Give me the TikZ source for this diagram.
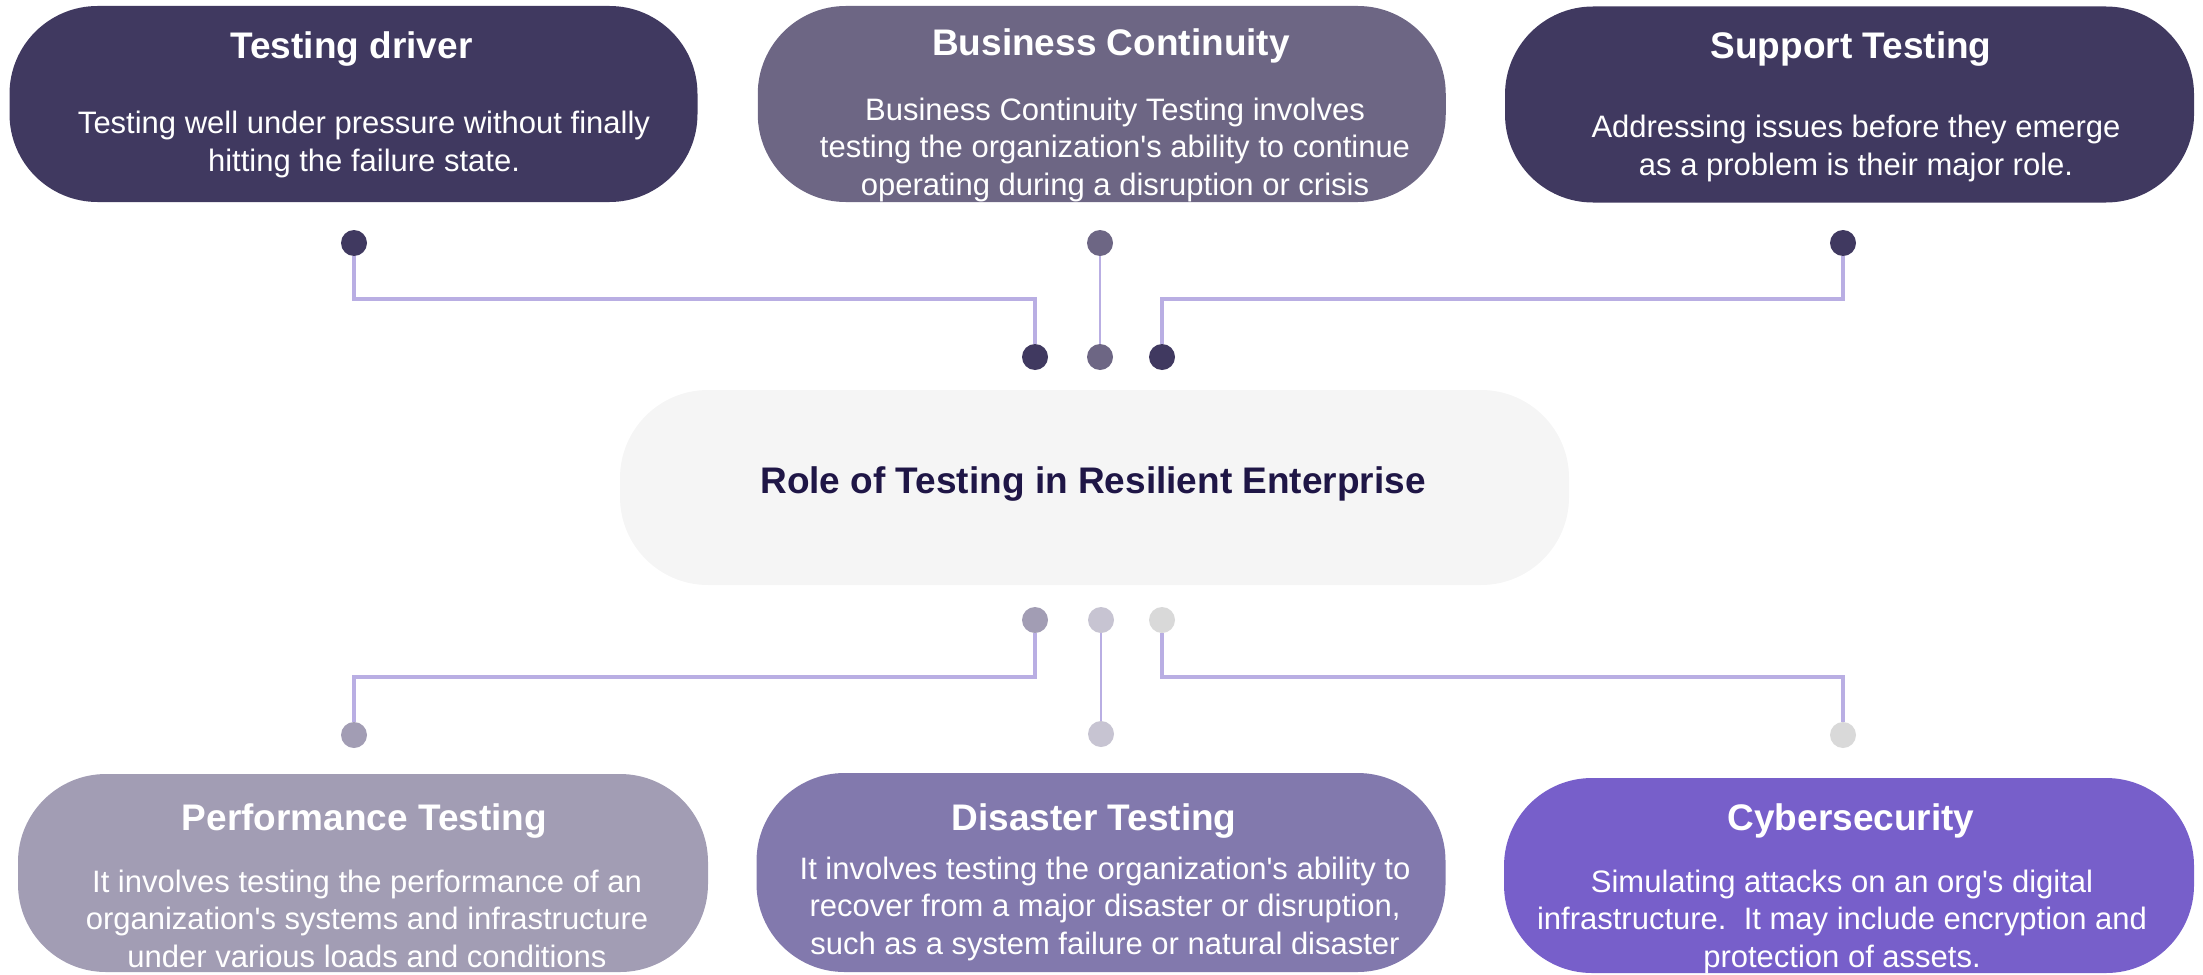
\documentclass[tikz,border=0pt]{standalone}
\usepackage{fontspec}
\setmainfont{Liberation Sans}[Ligatures=TeXOff]
\usetikzlibrary{positioning}

\definecolor{cdark}{HTML}{403960}
\definecolor{cmid}{HTML}{6D6684}
\definecolor{cperf}{HTML}{A29DB4}
\definecolor{cdis}{HTML}{8279AD}
\definecolor{ccyb}{HTML}{775FCA}
\definecolor{cpale}{HTML}{C7C4D2}
\definecolor{cgray}{HTML}{D9D9D9}
\definecolor{ccore}{HTML}{F5F5F5}
\definecolor{ctitle}{HTML}{1F1646}
\definecolor{cline}{HTML}{B9AEE3}

\begin{document}
\begin{tikzpicture}[x=0.5pt,y=-0.5pt,
 card/.style={rounded corners=44pt,inner sep=0pt,minimum height=98pt},
 ttl/.style={anchor=base,text=white,font=\fontsize{18.5}{22}\selectfont\bfseries},
 txt/.style={anchor=base,text=white,align=center,font=\fontsize{15.5}{18.75}\selectfont},
 dot/.style={circle,inner sep=0pt,minimum size=13pt},
 link/.style={draw=cline,line width=1.6pt},
 thin/.style={draw=cline,line width=0.6pt}]
\useasboundingbox (0,0) rectangle (2203,974);

% cards
\node[card,fill=cdark,minimum width=344pt] (drv) at (353.5,104) {};
\node[card,fill=cmid,minimum width=344pt] (bc) at (1101.75,104) {};
\node[card,fill=cdark,minimum width=344.5pt] (sup) at (1849.5,104.5) {};
\node[card,fill=ccore,minimum width=474.5pt,minimum height=97.5pt] (core) at (1094.5,487.5) {};
\node[card,fill=cperf,minimum width=345pt,minimum height=99pt] (perf) at (363,873) {};
\node[card,fill=cdis,minimum width=344.5pt,minimum height=99.5pt] (dis) at (1101,872.5) {};
\node[card,fill=ccyb,minimum width=345pt,minimum height=97.5pt] (cyb) at (1849,875.5) {};

% texts (body nodes sit on the baseline of their last line)
\node[ttl] (drv-t) at (351.5,59) {Testing driver};
\node[txt] (drv-b) at (364,171) {Testing well under pressure without finally\\hitting the failure state.};
\node[ttl] (bc-t) at (1111,56) {Business Continuity};
\node[txt] (bc-b) at (1115,195) {Business Continuity Testing involves\\testing the organization's ability to continue\\operating during a disruption or crisis};
\node[ttl] (sup-t) at (1851,59) {Support Testing};
\node[txt] (sup-b) at (1856,175) {Addressing issues before they emerge\\as a problem is their major role.};
\node[ttl,text=ctitle] (core-t) at (1093,493) {Role of Testing in Resilient Enterprise};
\node[ttl] (perf-t) at (364.5,830) {Performance Testing};
\node[txt] (perf-b) at (367,967) {It involves testing the performance of an\\organization's systems and infrastructure\\under various loads and conditions};
\node[ttl] (dis-t) at (1094,830) {Disaster Testing};
\node[txt] (dis-b) at (1105,954) {It involves testing the organization's ability to\\recover from a major disaster or disruption,\\such as a system failure or natural disaster};
\node[ttl] (cyb-t) at (1851,830) {Cybersecurity};
\node[txt] (cyb-b) at (1842,967) {Simulating attacks on an org's digital\\infrastructure.\ \ It may include encryption and\\protection of assets.};

% dots
\node[dot,fill=cdark] (drv-d) at (354,243) {};
\node[dot,fill=cmid] (bc-d) at (1100,243) {};
\node[dot,fill=cdark] (sup-d) at (1843,243) {};
\node[dot,fill=cdark] (hub-a) at (1035,357) {};
\node[dot,fill=cmid] (hub-b) at (1100,357) {};
\node[dot,fill=cdark] (hub-c) at (1162,357) {};
\node[dot,fill=cperf] (hub-d) at (1035,620) {};
\node[dot,fill=cpale] (hub-e) at (1101,620) {};
\node[dot,fill=cgray] (hub-f) at (1162,620) {};
\node[dot,fill=cperf] (perf-d) at (354,735) {};
\node[dot,fill=cpale] (dis-d) at (1101,734) {};
\node[dot,fill=cgray] (cyb-d) at (1843,735) {};

% rails
\coordinate (railT) at (0,299);
\coordinate (railB) at (0,677);
\draw[link] (drv-d) -- (drv-d |- railT) -| (hub-a);
\draw[link] (sup-d) -- (sup-d |- railT) -| (hub-c);
\draw[thin] (bc-d) -- (hub-b);
\draw[link] (hub-d) -- (hub-d |- railB) -| (perf-d);
\draw[link] (hub-f) -- (hub-f |- railB) -| (cyb-d);
\draw[thin] (hub-e) -- (dis-d);
\end{tikzpicture}
\end{document}
